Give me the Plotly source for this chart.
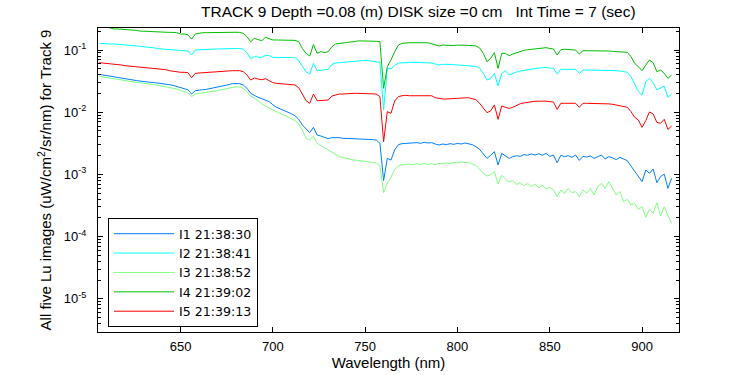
import plotly.graph_objects as go

wavelength = [606, 608, 610, 612, 614, 616, 618, 620, 622, 624,
              626, 628, 630, 632, 634, 636, 638, 640, 642, 644,
              646, 648, 650, 652, 654, 656, 658, 660, 662, 664,
              666, 668, 670, 672, 674, 676, 678, 680, 682, 684,
              686, 688, 690, 692, 694, 696, 698, 700, 702, 704,
              706, 708, 710, 712, 714, 716, 718, 720, 722, 724,
              726, 728, 730, 732, 734, 736, 738, 740, 742, 744,
              746, 748, 750, 752, 754, 756, 758, 760, 762, 764,
              766, 768, 770, 772, 774, 776, 778, 780, 782, 784,
              786, 788, 790, 792, 794, 796, 798, 800, 802, 804,
              806, 808, 810, 812, 814, 816, 818, 820, 822, 824,
              826, 828, 830, 832, 834, 836, 838, 840, 842, 844,
              846, 848, 850, 852, 854, 856, 858, 860, 862, 864,
              866, 868, 870, 872, 874, 876, 878, 880, 882, 884,
              886, 888, 890, 892, 894, 896, 898, 900, 902, 904,
              906, 908, 910, 912, 914, 916]

i1_values = [0.0406, 0.0396, 0.0387, 0.0377, 0.0368, 0.0359, 0.0350, 0.0344, 0.0338, 0.0329,
             0.0323, 0.0317, 0.0310, 0.0306, 0.0302, 0.0299, 0.0295, 0.0291, 0.0284, 0.0277,
             0.0270, 0.0257, 0.0248, 0.0239, 0.0230, 0.0196, 0.0222, 0.0228, 0.0230, 0.0233,
             0.0239, 0.0245, 0.0251, 0.0257, 0.0267, 0.0277, 0.0288, 0.0291, 0.0288, 0.0274,
             0.0242, 0.0201, 0.0184, 0.0173, 0.0165, 0.0157, 0.0148, 0.0132, 0.0120, 0.0113,
             0.0107, 0.0102, 0.00947, 0.00880, 0.00768, 0.00622, 0.00550, 0.00469, 0.00571, 0.00430,
             0.00414, 0.00394, 0.00375, 0.00390, 0.00394, 0.00390, 0.00380, 0.00375, 0.00380, 0.00375,
             0.00371, 0.00366, 0.00371, 0.00366, 0.00362, 0.00357, 0.00316, 0.000793, 0.00181, 0.00170,
             0.00247, 0.00301, 0.00312, 0.00316, 0.00320, 0.00316, 0.00324, 0.00316, 0.00328, 0.00320,
             0.00324, 0.00308, 0.00297, 0.00308, 0.00301, 0.00312, 0.00304, 0.00316, 0.00308, 0.00320,
             0.00308, 0.00301, 0.00279, 0.00253, 0.00213, 0.00181, 0.00203, 0.00232, 0.00142, 0.00218,
             0.00198, 0.00181, 0.00193, 0.00200, 0.00195, 0.00208, 0.00203, 0.00213, 0.00205, 0.00215,
             0.00203, 0.00218, 0.00195, 0.00205, 0.00154, 0.00203, 0.00193, 0.00200, 0.00188, 0.00205,
             0.00168, 0.00195, 0.00190, 0.00198, 0.00181, 0.00195, 0.00205, 0.00177, 0.00193, 0.00184,
             0.00173, 0.00188, 0.00179, 0.00166, 0.00136, 0.00111, 0.000920, 0.000764, 0.00118, 0.00104,
             0.00122, 0.000736, 0.000920, 0.00101, 0.000597, 0.000865]

i2_values = [0.128, 0.126, 0.126, 0.125, 0.125, 0.124, 0.123, 0.121, 0.120, 0.117,
             0.116, 0.115, 0.113, 0.112, 0.109, 0.108, 0.105, 0.104, 0.103, 0.101,
             0.100, 0.0988, 0.0976, 0.0976, 0.0964, 0.0831, 0.100, 0.101, 0.102, 0.103,
             0.103, 0.103, 0.104, 0.104, 0.105, 0.105, 0.105, 0.106, 0.106, 0.103,
             0.0906, 0.0726, 0.0781, 0.0772, 0.0762, 0.0821, 0.0811, 0.0762, 0.0762, 0.0762,
             0.0762, 0.0762, 0.0762, 0.0753, 0.0674, 0.0540, 0.0448, 0.0411, 0.0610, 0.0465,
             0.0477, 0.0477, 0.0489, 0.0588, 0.0618, 0.0626, 0.0633, 0.0649, 0.0657, 0.0665,
             0.0674, 0.0682, 0.0682, 0.0674, 0.0665, 0.0657, 0.0633, 0.0109, 0.0507, 0.0501,
             0.0567, 0.0618, 0.0626, 0.0633, 0.0633, 0.0633, 0.0633, 0.0633, 0.0633, 0.0633,
             0.0618, 0.0595, 0.0574, 0.0588, 0.0595, 0.0588, 0.0581, 0.0574, 0.0574, 0.0567,
             0.0560, 0.0560, 0.0546, 0.0513, 0.0422, 0.0329, 0.0350, 0.0422, 0.0264, 0.0422,
             0.0465, 0.0396, 0.0422, 0.0443, 0.0460, 0.0471, 0.0483, 0.0501, 0.0507, 0.0513,
             0.0520, 0.0526, 0.0513, 0.0507, 0.0411, 0.0489, 0.0489, 0.0489, 0.0489, 0.0489,
             0.0422, 0.0477, 0.0477, 0.0477, 0.0471, 0.0477, 0.0477, 0.0471, 0.0477, 0.0471,
             0.0465, 0.0460, 0.0454, 0.0438, 0.0373, 0.0274, 0.0214, 0.0189, 0.0310, 0.0350,
             0.0299, 0.0228, 0.0242, 0.0264, 0.0173, 0.0196]

i3_values = [0.0377, 0.0368, 0.0359, 0.0353, 0.0346, 0.0338, 0.0329, 0.0325, 0.0317, 0.0310,
             0.0302, 0.0299, 0.0291, 0.0288, 0.0281, 0.0277, 0.0270, 0.0267, 0.0261, 0.0254,
             0.0248, 0.0236, 0.0225, 0.0214, 0.0204, 0.0178, 0.0196, 0.0201, 0.0204, 0.0206,
             0.0211, 0.0217, 0.0222, 0.0228, 0.0236, 0.0245, 0.0254, 0.0257, 0.0254, 0.0242,
             0.0214, 0.0180, 0.0169, 0.0151, 0.0137, 0.0126, 0.0117, 0.0109, 0.0101, 0.00947,
             0.00902, 0.00848, 0.00787, 0.00731, 0.00646, 0.00517, 0.00380, 0.00357, 0.00414, 0.00316,
             0.00290, 0.00266, 0.00244, 0.00224, 0.00205, 0.00193, 0.00186, 0.00179, 0.00175, 0.00170,
             0.00168, 0.00164, 0.00162, 0.00158, 0.00156, 0.00153, 0.00137, 0.000509, 0.000718, 0.000897,
             0.00121, 0.00137, 0.00143, 0.00145, 0.00147, 0.00143, 0.00149, 0.00145, 0.00151, 0.00145,
             0.00149, 0.00143, 0.00151, 0.00147, 0.00153, 0.00149, 0.00156, 0.00153, 0.00160, 0.00154,
             0.00158, 0.00147, 0.00140, 0.00122, 0.00104, 0.000943, 0.000990, 0.00111, 0.000701, 0.000966,
             0.000833, 0.000755, 0.000793, 0.000684, 0.000736, 0.000659, 0.000718, 0.000635, 0.000692, 0.000612,
             0.000675, 0.000575, 0.000620, 0.000561, 0.000439, 0.000561, 0.000496, 0.000597, 0.000509, 0.000528,
             0.000439, 0.000561, 0.000496, 0.000597, 0.000466, 0.000635, 0.000718, 0.000597, 0.000764, 0.000597,
             0.000466, 0.000528, 0.000364, 0.000397, 0.000322, 0.000343, 0.000274, 0.000303, 0.000204, 0.000274,
             0.000237, 0.000351, 0.000214, 0.000303, 0.000220, 0.000163]

i4_values = [0.249, 0.240, 0.231, 0.223, 0.218, 0.218, 0.216, 0.215, 0.215, 0.212,
             0.207, 0.202, 0.200, 0.200, 0.197, 0.197, 0.195, 0.195, 0.192, 0.192,
             0.192, 0.190, 0.181, 0.181, 0.176, 0.150, 0.181, 0.188, 0.190, 0.190,
             0.191, 0.192, 0.193, 0.192, 0.191, 0.193, 0.192, 0.193, 0.192, 0.185,
             0.164, 0.136, 0.154, 0.148, 0.141, 0.160, 0.154, 0.145, 0.145, 0.145,
             0.145, 0.145, 0.144, 0.143, 0.136, 0.106, 0.0884, 0.0801, 0.123, 0.0884,
             0.0940, 0.0906, 0.0940, 0.113, 0.125, 0.128, 0.131, 0.133, 0.1345, 0.136,
             0.140, 0.140, 0.140, 0.140, 0.138, 0.138, 0.136, 0.0242, 0.054, 0.0691,
             0.0940, 0.120, 0.128, 0.131, 0.131, 0.131, 0.131, 0.131, 0.131, 0.131,
             0.126, 0.122, 0.116, 0.120, 0.119, 0.116, 0.118, 0.120, 0.120, 0.119,
             0.119, 0.118, 0.116, 0.108, 0.0884, 0.0649, 0.0735, 0.0906, 0.0507, 0.0884,
             0.0884, 0.0811, 0.0862, 0.0906, 0.0964, 0.0988, 0.101, 0.103, 0.104, 0.106,
             0.108, 0.109, 0.106, 0.104, 0.0831, 0.101, 0.103, 0.103, 0.101, 0.100,
             0.0862, 0.0976, 0.0976, 0.0976, 0.0976, 0.0988, 0.0976, 0.0976, 0.0964, 0.0952,
             0.0940, 0.0940, 0.0940, 0.0917, 0.0781, 0.0610, 0.0540, 0.0465, 0.0574, 0.0691,
             0.0626, 0.0448, 0.0477, 0.0422, 0.0350, 0.0396]

i5_values = [0.0626, 0.0618, 0.0618, 0.0610, 0.0603, 0.0588, 0.0574, 0.0560, 0.0553, 0.0546,
             0.0540, 0.0526, 0.0520, 0.0513, 0.0507, 0.0507, 0.0501, 0.0495, 0.0483, 0.0465,
             0.0454, 0.0443, 0.0438, 0.0438, 0.0432, 0.0359, 0.0422, 0.0427, 0.0432, 0.0438,
             0.0443, 0.0448, 0.0454, 0.0460, 0.0465, 0.0465, 0.0465, 0.0465, 0.0465, 0.0448,
             0.0396, 0.0329, 0.0355, 0.0342, 0.0333, 0.0346, 0.0321, 0.0299, 0.0291, 0.0288,
             0.0284, 0.0281, 0.0277, 0.0274, 0.0248, 0.0189, 0.0153, 0.0139, 0.0196, 0.0153,
             0.0153, 0.0153, 0.0157, 0.0182, 0.0191, 0.0196, 0.0196, 0.0199, 0.0199, 0.0201,
             0.0201, 0.0201, 0.0201, 0.0199, 0.0199, 0.0196, 0.0178, 0.00336, 0.0102, 0.00959,
             0.0151, 0.0178, 0.0184, 0.0187, 0.0184, 0.0184, 0.0184, 0.0184, 0.0184, 0.0184,
             0.0184, 0.0171, 0.0165, 0.0163, 0.0163, 0.0163, 0.0165, 0.0167, 0.0169, 0.0171,
             0.0171, 0.0165, 0.0159, 0.0139, 0.0115, 0.00983, 0.0105, 0.0131, 0.00768, 0.0126,
             0.0120, 0.0115, 0.0120, 0.0129, 0.0137, 0.0141, 0.0144, 0.0148, 0.0150, 0.0150,
             0.0151, 0.0151, 0.0148, 0.0146, 0.0111, 0.0139, 0.0139, 0.0139, 0.0139, 0.0139,
             0.0120, 0.0139, 0.0139, 0.0139, 0.0139, 0.0139, 0.0137, 0.0139, 0.0136, 0.0134,
             0.0131, 0.0129, 0.0126, 0.0120, 0.0102, 0.00827, 0.00749, 0.00571, 0.00731, 0.0101,
             0.00935, 0.00687, 0.00662, 0.00768, 0.00530, 0.00600]

series_names = ["I1 21:38:30", "I2 21:38:41", "I3 21:38:52", "I4 21:39:02", "I5 21:39:13"]
series_values = [i1_values, i2_values, i3_values, i4_values, i5_values]
series_colors = ["#0080ff", "#00ffff", "#80ff80", "#00c000", "#ff0000"]

x_tick_vals = [650, 700, 750, 800, 850, 900]
y_tick_vals = [1e-5, 1e-4, 1e-3, 1e-2, 1e-1]
y_tick_text = ["10<sup>-5</sup>", "10<sup>-4</sup>", "10<sup>-3</sup>", "10<sup>-2</sup>", "10<sup>-1</sup>"]

minor_vals = [k * 10.0 ** e for e in range(-6, 0) for k in range(2, 10)]

FONT = "Liberation Sans, Arial, sans-serif"
LEG_FONT = "DejaVu Sans, Verdana, sans-serif"

fig = go.Figure()
for name, vals, col in zip(series_names, series_values, series_colors):
    fig.add_trace(go.Scatter(x=wavelength, y=vals, mode="lines", name=name,
                             line=dict(color=col, width=1)))

W, H = 750, 375
L, R, T, B = 98, 679, 28, 332

fig.update_layout(
    width=W, height=H,
    margin=dict(l=L, r=W - R, t=T, b=H - B, pad=0, autoexpand=False),
    paper_bgcolor="white", plot_bgcolor="white",
    font=dict(family=FONT, size=13, color="black"),
    title=dict(text="TRACK 9 Depth =0.08 (m) DISK size =0 cm   Int Time = 7 (sec)",
               font=dict(family=FONT, size=15.5, color="black"),
               x=201 / W, xref="container", xanchor="left",
               y=1 - 12 / H, yref="container", yanchor="middle"),
    showlegend=True,
    legend=dict(x=(108 - L) / (R - L), y=(B - 218) / (B - T), xanchor="left", yanchor="top",
                bgcolor="white", bordercolor="black", borderwidth=1,
                font=dict(family=LEG_FONT, size=12.6, color="black"),
                itemwidth=60, tracegroupgap=0),
    xaxis=dict(range=[605.3, 920], tickmode="array", tickvals=x_tick_vals,
               ticks="inside", ticklen=5, tickwidth=1, tickcolor="black",
               showline=True, linecolor="black", linewidth=1, mirror="ticks",
               showgrid=False, zeroline=False, automargin=False,
               tickfont=dict(family=FONT, size=13, color="black"),
               ticklabelstandoff=2,
               title=dict(text="Wavelength (nm)", font=dict(family=FONT, size=15, color="black"),
                          standoff=0)),
    yaxis=dict(type="log", range=[-5.534, -0.646], tickmode="array",
               tickvals=y_tick_vals, ticktext=y_tick_text,
               ticks="inside", ticklen=5, tickwidth=1, tickcolor="black",
               showline=True, linecolor="black", linewidth=1, mirror="ticks",
               showgrid=False, zeroline=False, automargin=False,
               tickfont=dict(family=FONT, size=13, color="black"),
               ticklabelstandoff=8,
               minor=dict(tickmode="array", tickvals=minor_vals, ticks="inside",
                          ticklen=3, tickwidth=1, tickcolor="black", showgrid=False),
               title=dict(text="All five Lu images (uW/cm<sup>2</sup>/sr/nm) for Track 9",
                          font=dict(family=FONT, size=15, color="black"),
                          standoff=8)),
)

fig.write_html("out.html", config={"displayModeBar": False},
               post_script="document.body.style.margin='0px';")
